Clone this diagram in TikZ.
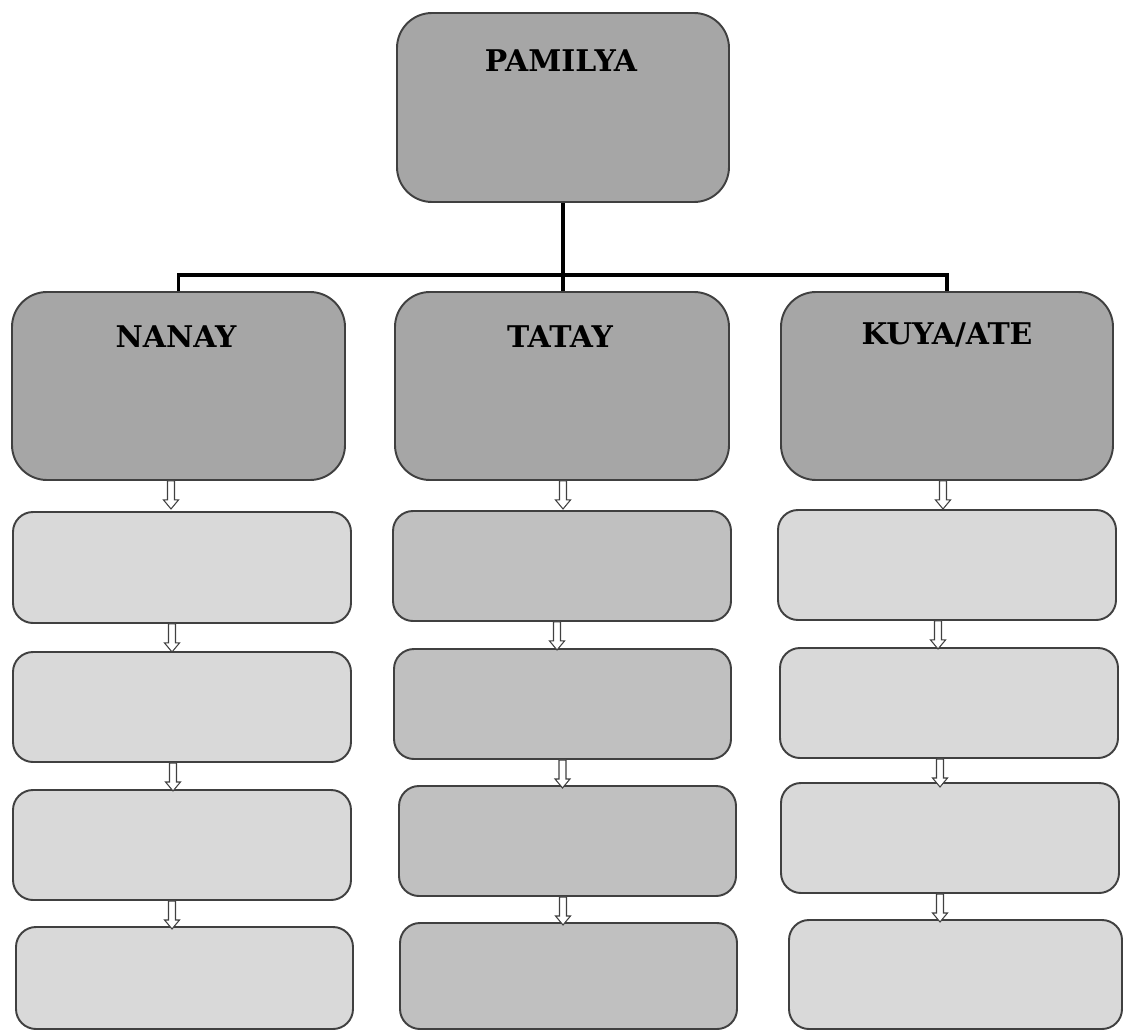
\documentclass[tikz,border=0pt]{standalone}
\usepackage{fontspec}
\setmainfont{DejaVu Serif}
\usetikzlibrary{calc,fit}
\definecolor{TopClr}{HTML}{A6A6A6}
\definecolor{MidClr}{HTML}{C0C0C0}
\definecolor{LowClr}{HTML}{D9D9D9}
\definecolor{EdgeClr}{HTML}{404040}

\begin{document}
\begin{tikzpicture}[x=0.02cm,y=-0.02cm,
  bigbox/.style={draw=EdgeClr,line width=1.1pt,fill=TopClr,rounded corners=0.7cm,inner sep=0pt},
  smallbox/.style={draw=EdgeClr,line width=1.1pt,rounded corners=0.4cm,inner sep=0pt},
  lbl/.style={font=\fontsize{17}{20}\selectfont\bfseries},
  tree/.style={line width=2pt,black},
  darr/.pic={\draw[EdgeClr,line width=0.6pt,fill=white]
    (-3.5,0) -- (-3.5,19) -- (-7.5,19) -- (0,28) -- (7.5,19) -- (3.5,19) -- (3.5,0) -- cycle;}]
\useasboundingbox (0,0) rectangle (1123,1031);

\node[bigbox,fit={(397,13) (729,202)}] (pam) {};
\node[bigbox,fit={(12,292) (345,480)}] (nan) {};
\node[bigbox,fit={(395,292) (729,480)}] (tat) {};
\node[bigbox,fit={(781,292) (1113,480)}] (kuy) {};

\node[lbl] at (561,61) {PAMILYA};
\node[lbl] at (176,337) {NANAY};
\node[lbl] at (560,337) {TATAY};
\node[lbl] at (947,335) {KUYA/ATE};

\coordinate (bar) at (563,275);
\draw[tree] (pam.south) -- (pam.south |- tat.north);
\draw[tree] (nan.north) -- (nan.north |- bar) -| (kuy.north);

% nanay
\node[smallbox,fill=LowClr,fit={(13,512) (351,623)}] (n1) {};
\node[smallbox,fill=LowClr,fit={(13,652) (351,762)}] (n2) {};
\node[smallbox,fill=LowClr,fit={(13,790) (351,900)}] (n3) {};
\node[smallbox,fill=LowClr,fit={(16,927) (353,1029)}] (n4) {};
% tatay
\node[smallbox,fill=MidClr,fit={(393,511) (731,621)}] (t1) {};
\node[smallbox,fill=MidClr,fit={(394,649) (731,759)}] (t2) {};
\node[smallbox,fill=MidClr,fit={(399,786) (736,896)}] (t3) {};
\node[smallbox,fill=MidClr,fit={(400,923) (737,1029)}] (t4) {};
% kuya/ate
\node[smallbox,fill=LowClr,fit={(778,510) (1116,620)}] (k1) {};
\node[smallbox,fill=LowClr,fit={(780,648) (1118,758)}] (k2) {};
\node[smallbox,fill=LowClr,fit={(781,783) (1119,893)}] (k3) {};
\node[smallbox,fill=LowClr,fit={(789,920) (1122,1029)}] (k4) {};

\pic at ($(nan.south)+(-7.5,0)$) {darr};
\pic at ($(n1.south)+(-10,0)$) {darr};
\pic at ($(n2.south)+(-9,0)$) {darr};
\pic at ($(n3.south)+(-10,0)$) {darr};

\pic at ($(tat.south)+(1,0)$) {darr};
\pic at ($(t1.south)+(-5,0)$) {darr};
\pic at ($(t2.south)+(0,0)$) {darr};
\pic at ($(t3.south)+(-4.5,0)$) {darr};

\pic at ($(kuy.south)+(-4,0)$) {darr};
\pic at ($(k1.south)+(-9,0)$) {darr};
\pic at ($(k2.south)+(-9,0)$) {darr};
\pic at ($(k3.south)+(-10,0)$) {darr};
\end{tikzpicture}
\end{document}
